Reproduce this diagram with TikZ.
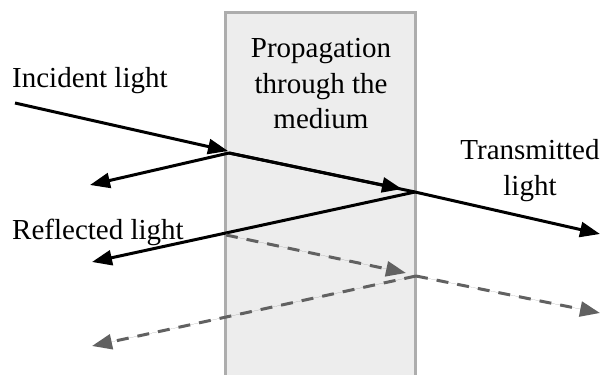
\documentclass[tikz,border=0pt]{standalone}
\usepackage{fontspec}
\setmainfont{Liberation Serif}
\usetikzlibrary{arrows.meta}
\begin{document}
\begin{tikzpicture}[x=1pt, y=-1pt, font=\fontsize{29}{35.5}\selectfont, inner sep=0pt,
    ray/.style={line width=3pt, -{Triangle[length=20pt, width=15pt]}},
    echo/.style={ray, draw=black!62, fill=black!62, dash pattern=on 12pt off 9pt}]
  \useasboundingbox (0,0) rectangle (601,374);
  % slab of the medium
  \draw[line width=3pt, draw=black!32, fill=black!7] (225,13) rectangle (415,380);
  \node[align=center, anchor=base] (medium) at (321,129) {Propagation\\through the\\medium};
  % hit points on both faces
  \coordinate (A) at (229,153);
  \coordinate (B) at (415,192);
  \coordinate (D) at (226,235);
  \coordinate (C) at (416,276);
  \coordinate (src) at (15,103);
  \coordinate (inA) at (228,151);
  \coordinate (inB) at (402,189);
  \coordinate (inC) at (406,273);
  \coordinate (out1) at (600,234);
  \coordinate (out2) at (600,313);
  \coordinate (back1) at (90,185);
  \coordinate (back2) at (92,262);
  \coordinate (back3) at (92,346);
  % solid rays
  \draw[ray] (src) -- (inA);
  \draw[ray] (A) -- (back1);
  \draw[line width=3pt] (A) -- (B);
  \draw[ray] (A) -- (inB);
  \draw[ray] (B) -- (out1);
  \draw[ray] (B) -- (back2);
  % rays after a second pass
  \draw[echo] (D) -- (inC);
  \draw[echo] (C) -- (out2);
  \draw[echo] (C) -- (back3);
  % labels
  \node[anchor=base west] (inc) at (12,88) {Incident light};
  \node[anchor=base west] (refl) at (12,239) {Reflected light};
  \node[align=center, anchor=base] (trans) at (530,195) {Transmitted\\light};
\end{tikzpicture}
\end{document}
